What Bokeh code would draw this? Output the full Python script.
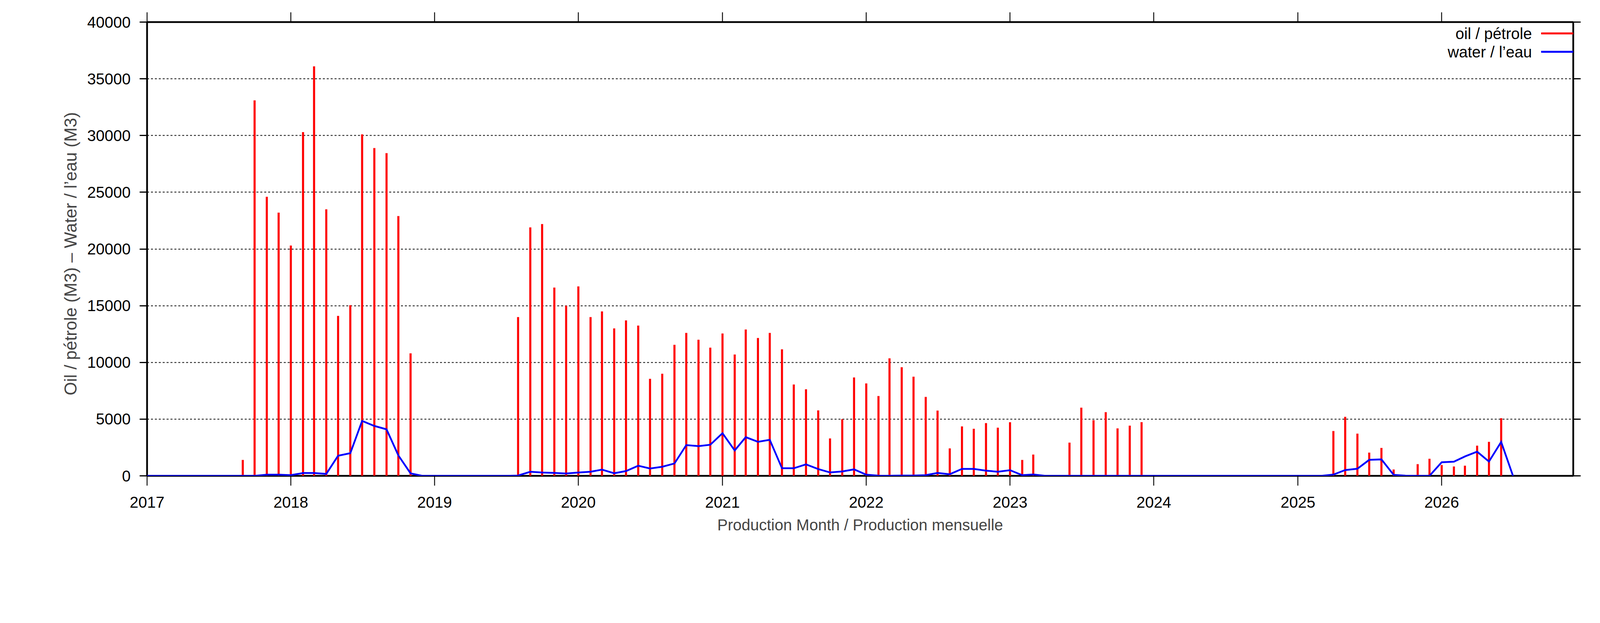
import pandas as pd
from bokeh.plotting import figure
from bokeh.models import (ColumnDataSource, Range1d, FixedTicker, DatetimeTickFormatter,
                          DatetimeAxis, LinearAxis, BasicTickFormatter, CustomLabelingPolicy,
                          Label, BoxAnnotation)
from bokeh.embed import file_html
from bokeh.resources import INLINE

# ---------------- data (monthly, starting Jan 2017) ----------------
first_month = "2017-01-01"
oil = [
    # 2017
    0, 0, 0, 0, 0, 0, 0, 0, 1400, 33100, 24600, 23200,
    # 2018
    20300, 30300, 36100, 23500, 14100, 15050, 30100, 28900, 28450, 22900, 10800, 0,
    # 2019
    0, 0, 0, 0, 0, 0, 0, 14000, 21900, 22200, 16600, 15000,
    # 2020
    16700, 14000, 14500, 13000, 13700, 13250, 8550, 9000, 11550, 12600, 12000, 11300,
    # 2021
    12550, 10700, 12900, 12150, 12600, 11150, 8050, 7630, 5770, 3300, 5000, 8670,
    # 2022
    8150, 7040, 10360, 9580, 8740, 6960, 5750, 2420, 4360, 4150, 4650, 4250,
    # 2023
    4730, 1400, 1880, 0, 0, 2930, 6010, 4910, 5620, 4190, 4430, 4740,
    # 2024
    0, 0, 0, 0, 0, 0, 0, 0, 0, 0, 0, 0,
    # 2025
    0, 0, 0, 3950, 5200, 3720, 2050, 2460, 560, 0, 1030, 1510,
    # 2026
    960, 830, 900, 2660, 3000, 5080, 0,
]
water = [
    # 2017
    0, 0, 0, 0, 0, 0, 0, 0, 0, 0, 100, 100,
    # 2018
    60, 250, 250, 170, 1770, 2000, 4840, 4400, 4100, 1800, 220, 0,
    # 2019
    0, 0, 0, 0, 0, 0, 0, 30, 360, 290, 260, 210,
    # 2020
    290, 360, 550, 230, 420, 890, 650, 800, 1090, 2710, 2620, 2740,
    # 2021
    3760, 2240, 3410, 3000, 3180, 670, 670, 1010, 600, 300, 390, 570,
    # 2022
    100, 20, 10, 30, 30, 60, 260, 140, 610, 610, 460, 360,
    # 2023
    500, 60, 120, 0, 0, 0, 0, 0, 0, 0, 0, 0,
    # 2024
    0, 0, 0, 0, 0, 0, 0, 0, 0, 0, 0, 0,
    # 2025
    0, 0, 0, 110, 510, 630, 1410, 1450, 90, 20, 0, 0,
    # 2026
    1200, 1250, 1710, 2130, 1260, 2990, 0,
]
tick_years = [2017, 2018, 2019, 2020, 2021, 2022, 2023, 2024, 2025, 2026]
y_ticks = [0, 5000, 10000, 15000, 20000, 25000, 30000, 35000, 40000]
x_start, x_end = "2017-01-01", "2026-12-01"
y_start, y_end = 0, 40000

legend_labels = ["oil / pétrole", "water / l’eau"]
x_title = "Production Month / Production mensuelle"
y_title = "Oil / pétrole (M3)  –  Water / l’eau (M3)"

OIL_COLOR = "#ff0000"
WATER_COLOR = "#0000ff"
FONT = "Liberation Sans"
FS = "40px"
FS_Y = "44px"

# reference pixels -> page css pixels (horizontal / vertical)
KX, KY = 0.7625, 1.0


def sx(v):
    return v * KX


def sy(v):
    return v * KY


months = pd.date_range(first_month, periods=len(oil), freq="MS")
src = ColumnDataSource(dict(month=months, oil=oil, water=water, base=[0] * len(oil)))

# ---------------- layout ----------------
W, H = 4160, 1575
FL = round(sx(504) - 8)
FR = round(sx(5376) - 8)
FT = round(sy(46) - 8)
FB = round(sy(1225) - 8)

p = figure(width=W, height=H, x_axis_type="datetime", output_backend="svg",
           toolbar_location=None,
           x_range=Range1d(pd.Timestamp(x_start), pd.Timestamp(x_end)),
           y_range=Range1d(y_start, y_end),
           min_border_left=FL, min_border_right=W - FR,
           min_border_top=FT, min_border_bottom=H - FB)
p.background_fill_color = "white"
p.border_fill_color = "white"
p.outline_line_color = "black"
p.outline_line_width = 4.5

year_ms = [pd.Timestamp(f"{y}-01-01").value // 10**6 for y in tick_years]
xticker = FixedTicker(ticks=year_ms)
yticker = FixedTicker(ticks=y_ticks)
xfmt = DatetimeTickFormatter(years="%Y", months="%Y", days="%Y", hours="%Y",
                             minutes="%Y", seconds="%Y", milliseconds="%Y")
no_labels = CustomLabelingPolicy(code="""
for (const i of Array.from(indices)) { indices.unset(i) }
return indices
""")


def style_axis(ax, tick_len, tick_w):
    ax.axis_line_color = None
    ax.major_tick_out = tick_len
    ax.major_tick_in = 0
    ax.major_tick_line_width = tick_w
    ax.major_tick_line_color = "black"
    ax.minor_tick_line_color = None
    ax.major_label_text_font = FONT
    ax.major_label_text_color = "black"
    ax.major_label_text_font_size = FS


xa = p.xaxis[0]
xa.ticker = xticker
xa.formatter = xfmt
style_axis(xa, round(sy(25)), sx(3))
xa.major_label_standoff = 28
xa.axis_label = x_title
xa.axis_label_text_font = FONT
xa.axis_label_text_font_size = FS
xa.axis_label_text_font_style = "normal"
xa.axis_label_standoff = 19

ya = p.yaxis[0]
ya.ticker = yticker
ya.formatter = BasicTickFormatter(use_scientific=False)
style_axis(ya, round(sx(25)), sy(3))
ya.major_label_standoff = 23
ya.axis_label = y_title
ya.axis_label_text_font = FONT
ya.axis_label_text_font_size = FS_Y
ya.axis_label_text_font_style = "normal"
ya.axis_label_standoff = 15

top = DatetimeAxis(ticker=xticker, formatter=xfmt, major_label_policy=no_labels)
style_axis(top, round(sy(25)), sx(3))
top.major_label_standoff = 0
p.add_layout(top, "above")
right = LinearAxis(ticker=yticker, major_label_policy=no_labels)
style_axis(right, round(sx(25)), sy(3))
right.major_label_standoff = 0
p.add_layout(right, "right")

p.xgrid.visible = False
p.ygrid.ticker = yticker
p.ygrid.grid_line_color = "black"
p.ygrid.grid_line_width = sy(2)
p.ygrid.grid_line_dash = "5 5"

# ---------------- marks ----------------
p.segment(x0="month", y0="base", x1="month", y1="oil", source=src,
          line_color=OIL_COLOR, line_width=sx(7), line_cap="butt")
p.line("month", "water", source=src, line_color=WATER_COLOR, line_width=4.5,
       line_join="miter")

# ---------------- legend (gnuplot style: text left, sample right) ----------------
frame_h = FB - FT
txt_right = sx(5153) - 8 - FL
ln_left, ln_right = sx(5184) - 8 - FL, sx(5320) - 8 - FL
leg_rows = [(legend_labels[0], OIL_COLOR, sy(93) - 8 - FT),
            (legend_labels[1], WATER_COLOR, sy(140) - 8 - FT)]
for txt, col, dy in leg_rows:
    yy = frame_h - dy
    p.add_layout(Label(x=txt_right, y=yy, x_units="screen", y_units="screen", text=txt,
                       text_align="right", text_baseline="middle",
                       text_font=FONT, text_font_size=FS, text_color="black"))
    p.add_layout(BoxAnnotation(left=ln_left, right=ln_right,
                               bottom=yy - 2.5, top=yy + 2.5,
                               left_units="screen", right_units="screen",
                               bottom_units="screen", top_units="screen",
                               fill_color=col, fill_alpha=1, line_color=None))

open("out.html", "w").write(file_html(p, INLINE))
